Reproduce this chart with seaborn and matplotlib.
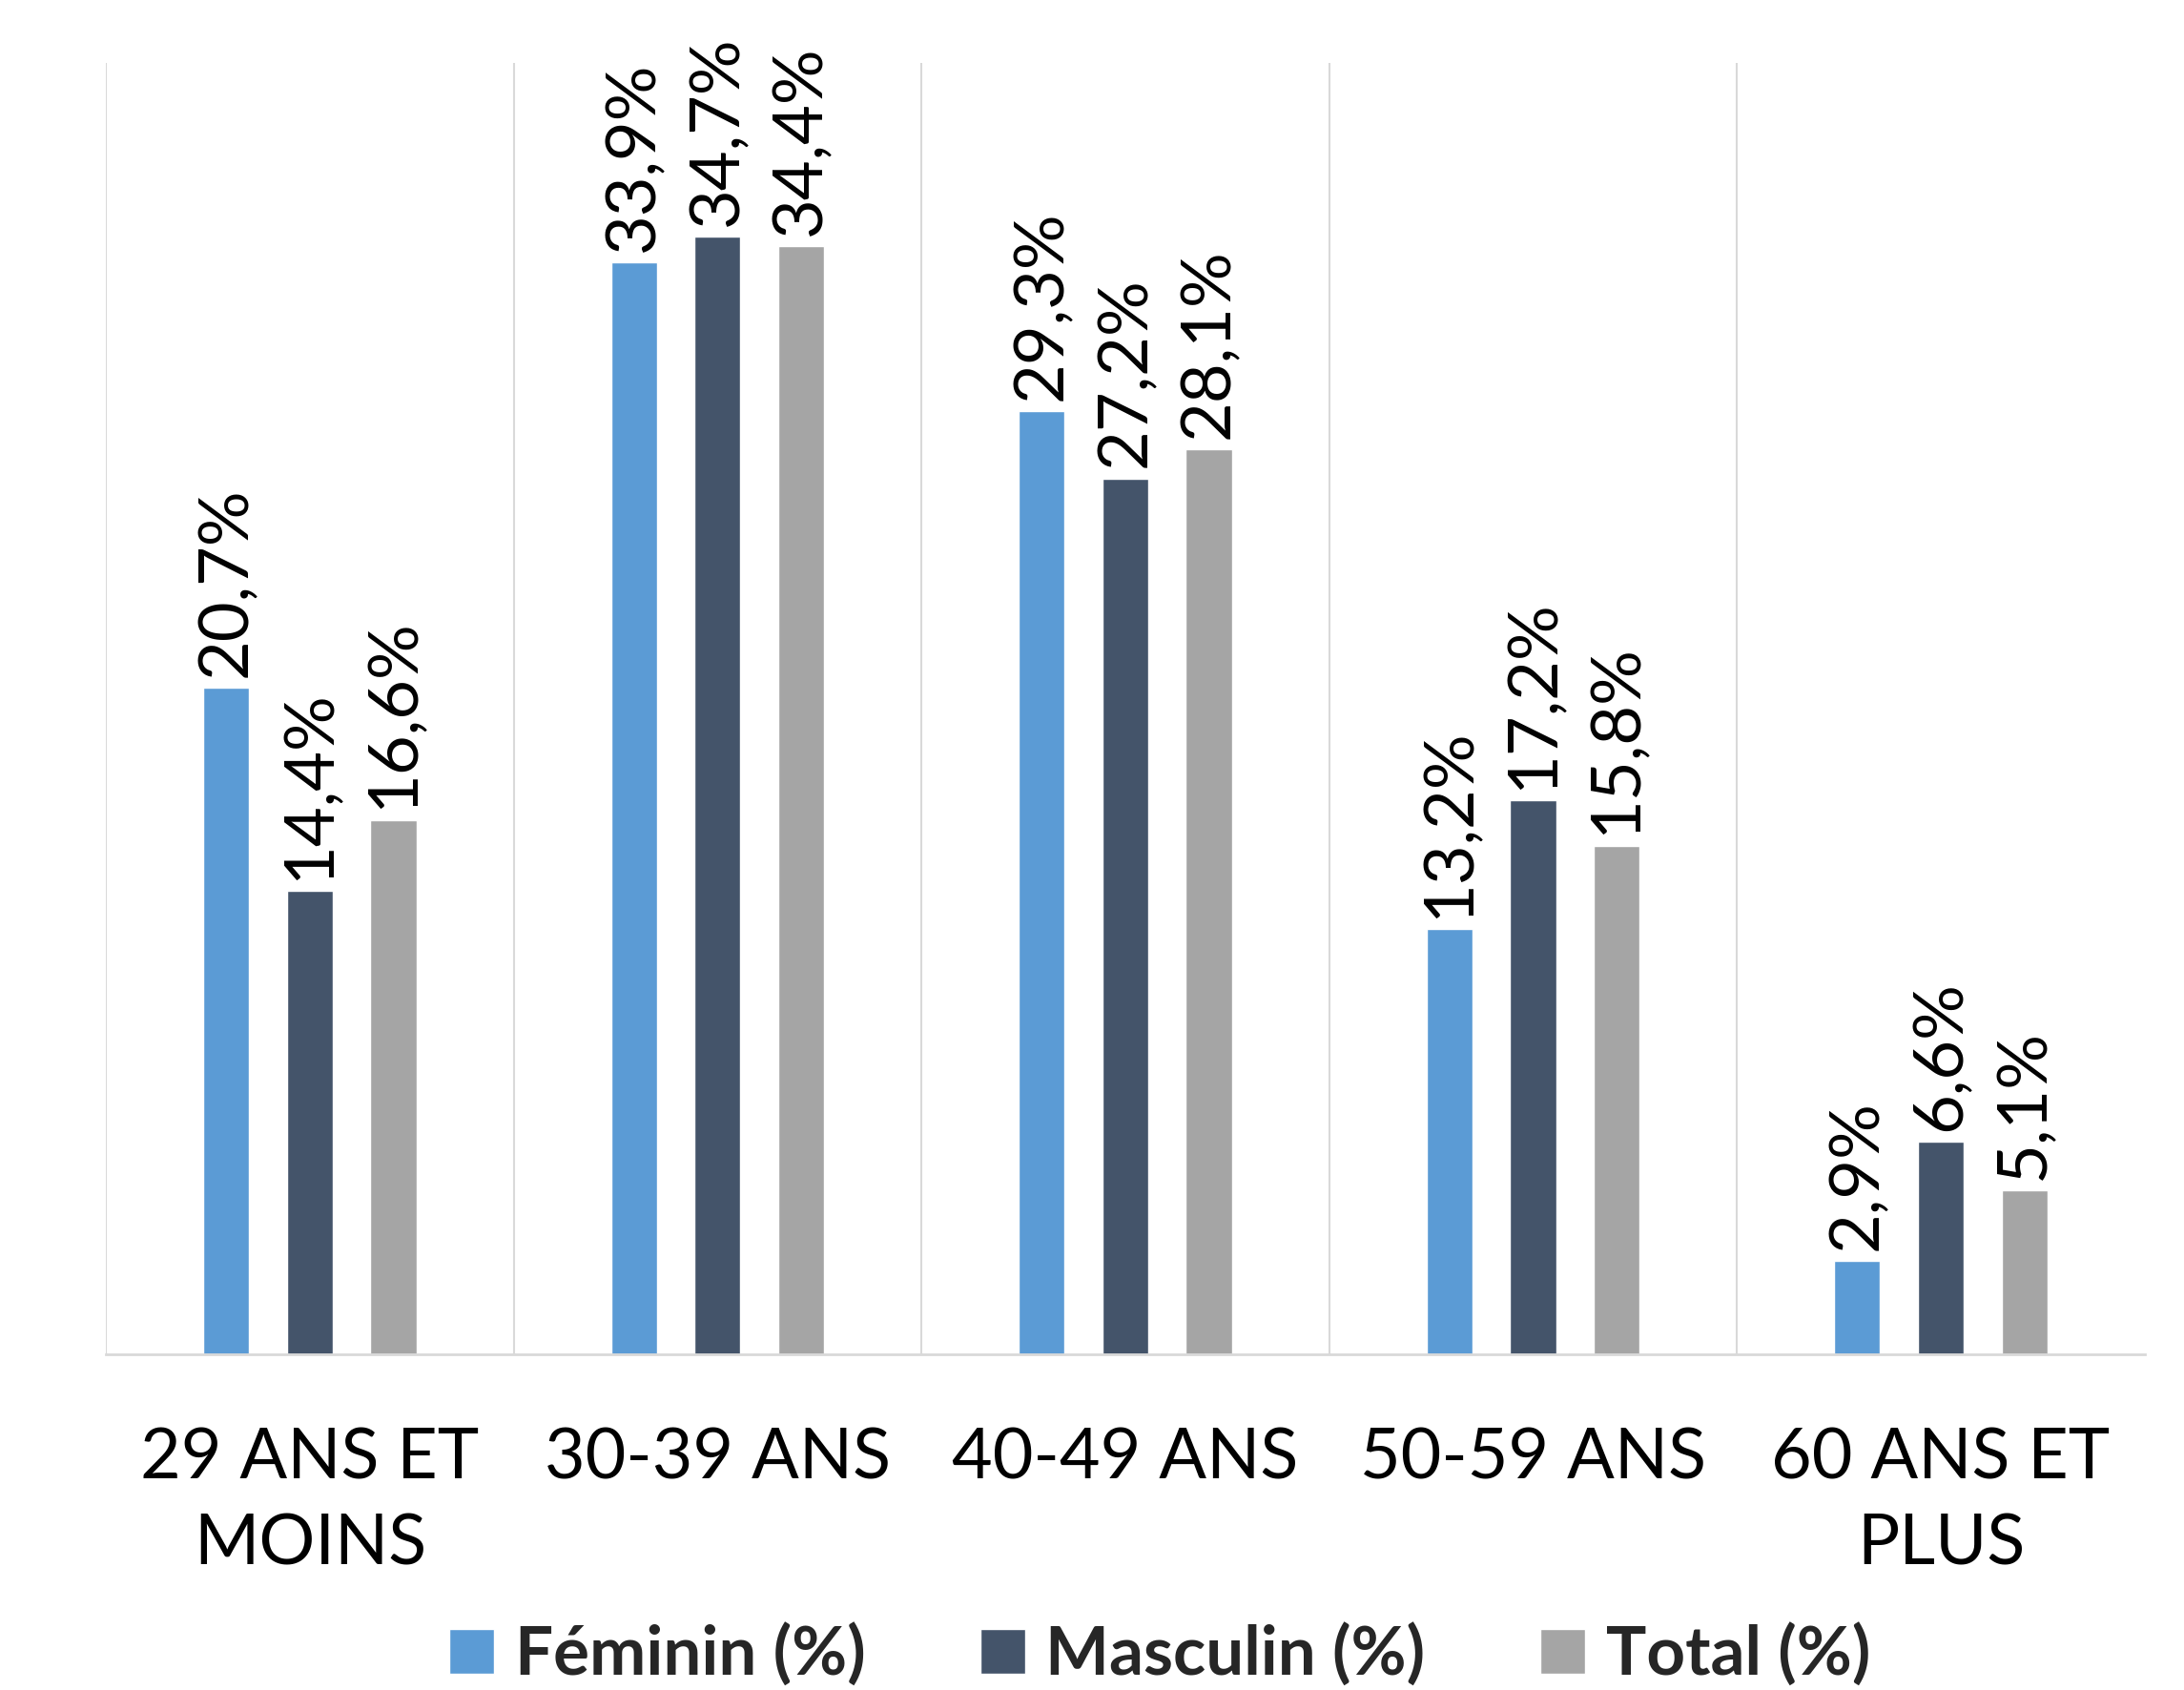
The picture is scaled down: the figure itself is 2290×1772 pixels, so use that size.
import matplotlib
matplotlib.use("Agg")
import matplotlib.pyplot as plt
import seaborn as sns
import pandas as pd

# Age groups and share of each group (%) by sex
categories = ["29 ANS ET\nMOINS", "30-39 ANS", "40-49 ANS", "50-59 ANS", "60 ANS ET\nPLUS"]
series = ["Féminin (%)", "Masculin (%)", "Total (%)"]
feminin = [20.7, 33.9, 29.3, 13.2, 2.9]
masculin = [14.4, 34.7, 27.2, 17.2, 6.6]
total = [16.6, 34.4, 28.1, 15.8, 5.1]
colors = ["#5B9BD5", "#44546A", "#A5A5A5"]

df = pd.DataFrame({
    "Tranche": categories * 3,
    "Série": [s for s in series for _ in categories],
    "Valeur": feminin + masculin + total,
})

sns.set_theme(style="white")
plt.rcParams["font.family"] = ["Lato", "DejaVu Sans"]

fig = plt.figure(figsize=(22.9, 17.72), dpi=100)
ax = fig.add_axes([0.0485, 0.1986, 0.9335, 0.7642])

sns.barplot(data=df, x="Tranche", y="Valeur", hue="Série", order=categories,
            hue_order=series, palette=colors, width=0.615, gap=0.45,
            saturation=1, ax=ax, legend=True)

ax.set_xlim(-0.5, len(categories) - 0.5)
ax.set_ylim(0, 40.1)

# Light vertical separators between age groups
ax.vlines([i - 0.5 for i in range(len(categories))], 0, 40.1,
          colors="#D9D9D9", linewidth=1.5, zorder=0)

for cont in ax.containers:
    vals = cont.datavalues
    labels = [f"{v:.1f}".replace(".", ",") + "%" for v in vals]
    ax.bar_label(cont, labels=labels, rotation=90, padding=8, fontsize=52,
                 color="black", clip_on=False)

for s in ["top", "right", "left"]:
    ax.spines[s].set_visible(False)
ax.spines["bottom"].set_color("#D9D9D9")
ax.spines["bottom"].set_linewidth(2)
ax.set_yticks([])
ax.set_xlabel("")
ax.set_ylabel("")
ax.tick_params(axis="x", length=0, pad=55)
for lbl in ax.get_xticklabels():
    lbl.set_fontsize(53)
    lbl.set_color("black")
    lbl.set_linespacing(1.42)
    lbl.set_verticalalignment("top")

handles, labels = ax.get_legend_handles_labels()
ax.get_legend().remove()
fig.legend(handles, labels, loc="center", bbox_to_anchor=(0.531, 0.021),
           ncol=3, frameon=False, prop={"weight": "bold", "size": 51},
           handlelength=0.66, handleheight=0.66, handletextpad=0.31,
           columnspacing=1.70, borderpad=0, borderaxespad=0)

fig.savefig("out.png", dpi=100, facecolor="white")
